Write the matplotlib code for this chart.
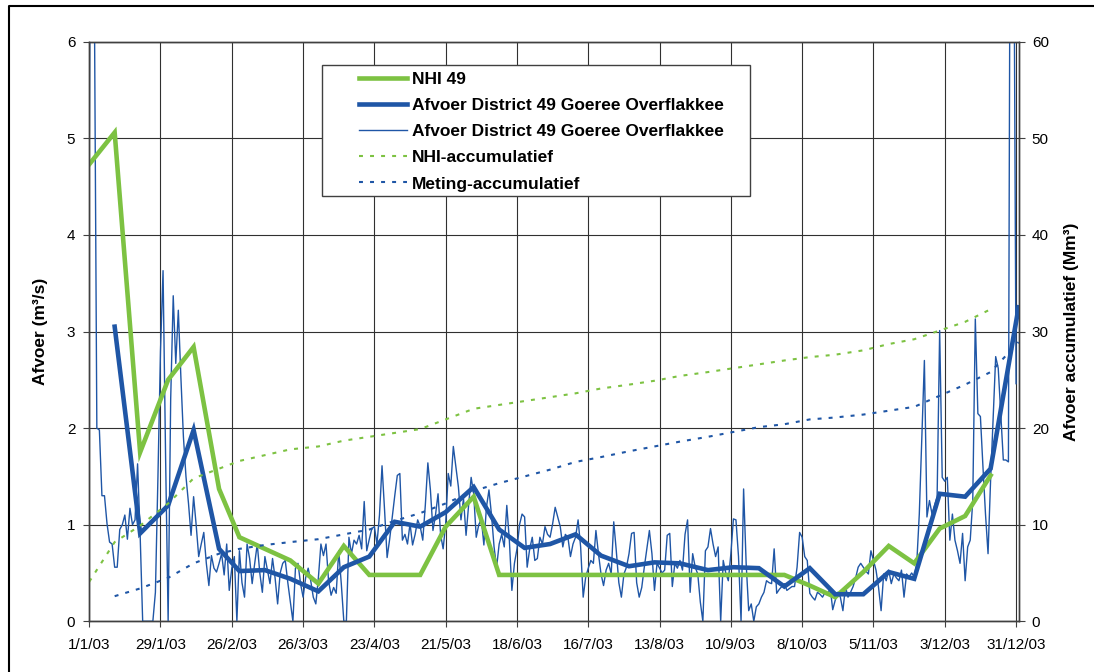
import datetime as dt
import numpy as np
import matplotlib
matplotlib.use("Agg")
import matplotlib.pyplot as plt
from matplotlib.lines import Line2D
from matplotlib.patches import Rectangle

plt.rcParams["font.family"] = ["Liberation Sans", "DejaVu Sans"]

START = dt.date(2003, 1, 1)

# Decade boundaries: 1st, 11th and 21st of each month, closing with 1/1/04
decade_dates = [dt.date(2003, m, d) for m in range(1, 13) for d in (1, 11, 21)] + [dt.date(2004, 1, 1)]
decade_days = [(d - START).days for d in decade_dates]

# NHI 49 model discharge per decade (m3/s), plotted at decade start
nhi_49 = [4.73, 5.06, 1.75, 2.50, 2.84, 1.37, 0.87, 0.75, 0.63, 0.39,
          0.78, 0.48, 0.48, 0.48, 0.98, 1.29, 0.48,
          0.48, 0.48, 0.48, 0.48, 0.48, 0.48, 0.48, 0.48, 0.48, 0.48, 0.48,
          0.37, 0.25, 0.51, 0.78, 0.60, 0.96, 1.09, 1.51]

# Measured district discharge, decade means (m3/s), plotted at decade end
district_decade = [3.05, 0.91, 1.20, 1.98, 0.75, 0.52, 0.53, 0.44, 0.31, 0.56,
                   0.67, 1.03, 0.98, 1.13, 1.39, 0.95, 0.76, 0.80, 0.90, 0.68,
                   0.57, 0.61, 0.60, 0.53, 0.56, 0.55, 0.36, 0.55, 0.28, 0.28,
                   0.51, 0.44, 1.32, 1.29, 1.58, 3.25]

# Cumulative volumes (Mm3)
nhi_cum = [4.09, 8.2, 9.9, 12.2, 14.8, 15.8, 16.6, 17.2, 17.8, 18.1,
           18.7, 19.1, 19.5, 19.9, 20.9, 22.0, 22.4, 22.8, 23.2, 23.6,
           24.1, 24.5, 24.9, 25.4, 25.8, 26.2, 26.6, 27.0, 27.35, 27.6,
           28.05, 28.7, 29.2, 30.1, 31.0, 32.3]
meting_cum = [2.6, 3.4, 4.5, 6.0, 7.0, 7.5, 7.9, 8.2, 8.5, 9.0,
              9.5, 10.4, 11.2, 12.2, 13.5, 14.3, 15.0, 15.7, 16.5, 17.0,
              17.6, 18.1, 18.6, 19.1, 19.6, 20.1, 20.4, 20.9, 21.1, 21.4,
              21.8, 22.2, 23.35, 24.5, 25.8, 28.9]

# Measured daily discharge (m3/s), 1/1/03 .. 31/12/03
daily_flow = [
    4.72, 10.6, 6.6, 2.0, 1.98, 1.30, 1.30, 1.01, 0.82, 0.80,
    0.56, 0.56, 0.95, 1.00, 1.10, 0.85, 1.17, 1.00, 1.05, 1.63,
    0.90, 0.0, 0.0, 0.0, 0.0, 0.0, 0.3, 1.5, 2.8, 3.63, 1.7,
    0.0, 2.3, 3.37, 2.67, 3.22, 2.53, 1.91, 1.5, 1.22, 0.89,
    1.29, 1.0, 0.67, 0.8, 0.92, 0.6, 0.37, 0.68, 0.55, 0.51,
    0.6, 0.70, 0.48, 0.80, 0.32, 0.55, 0.67, 0.0,
    0.73, 0.40, 0.25, 0.80, 0.65, 0.39, 0.60, 0.80, 0.50, 0.30,
    0.67, 0.53, 0.39, 0.65, 0.45, 0.18, 0.50, 0.60, 0.63, 0.40,
    0.20, 0.0, 0.55, 0.60, 0.39, 0.25, 0.45, 0.55, 0.42, 0.25, 0.18,
    0.45, 0.80, 0.68, 0.80, 0.42, 0.27, 0.35, 0.29, 0.73, 0.39,
    0.0, 0.0, 0.87, 0.70, 0.84, 0.80, 0.89, 0.75, 1.24, 0.73,
    0.85, 0.96, 0.98, 0.80, 1.10, 1.61, 1.15, 0.66, 0.85, 1.08,
    1.30, 1.51, 1.53, 0.84, 0.90, 0.80, 1.01, 0.79, 0.90, 1.05,
    0.98, 0.84, 1.20, 1.64, 1.36, 0.94, 1.10, 1.32, 0.90, 0.75,
    1.01, 1.53, 1.40, 1.81, 1.60, 1.39, 1.05, 1.27, 0.89, 1.20, 1.49,
    1.32, 0.87, 1.00, 1.06, 0.79, 1.18, 1.36, 1.10, 0.77, 0.56,
    0.80, 0.90, 0.77, 1.20, 0.84, 0.32, 0.60, 0.75, 1.00, 1.11,
    1.08, 0.56, 0.75, 0.87, 0.63, 0.65, 0.87, 0.80, 0.98, 0.90,
    0.87, 1.01, 1.18, 1.08, 0.98, 0.77, 0.90, 0.87, 0.67, 0.80,
    0.87, 1.05, 0.77, 0.25, 0.46, 0.55, 0.63, 0.60, 0.94, 0.70,
    0.49, 0.37, 0.53, 0.60, 0.49, 1.03, 0.73, 0.40, 0.25, 0.49, 0.56,
    0.70, 0.91, 0.92, 0.40, 0.25, 0.35, 0.56, 0.75, 0.94, 0.70,
    0.32, 0.60, 0.55, 0.50, 0.53, 0.89, 0.91, 0.36, 0.60, 0.55,
    0.63, 0.53, 0.90, 1.05, 0.30, 0.70, 0.56, 0.49, 0.20, 0.0, 0.73,
    0.77, 0.96, 0.80, 0.67, 0.77, 0.0, 0.63, 0.50, 0.42, 0.70,
    1.06, 1.05, 0.67, 0.0, 1.37, 0.60, 0.11, 0.18, 0.0, 0.15,
    0.18, 0.25, 0.30, 0.42, 0.40, 0.39, 0.75, 0.29, 0.33, 0.36,
    0.39, 0.32, 0.34, 0.36, 0.36, 0.56, 0.92, 0.87, 0.67, 0.63,
    0.29, 0.25, 0.22, 0.30, 0.28, 0.25, 0.30, 0.27, 0.35, 0.12,
    0.22, 0.30, 0.25, 0.11, 0.36, 0.25, 0.30, 0.36, 0.45, 0.56, 0.60,
    0.56, 0.52, 0.49, 0.73, 0.63, 0.53, 0.35, 0.11, 0.49, 0.42,
    0.53, 0.39, 0.49, 0.45, 0.42, 0.53, 0.25, 0.49, 0.46, 0.50,
    0.46, 0.60, 1.11, 1.90, 2.70, 1.08, 1.25, 1.11, 1.20, 1.29,
    3.01, 1.49, 1.45, 1.49, 0.84, 1.11, 0.84, 0.73, 0.60, 0.91,
    0.42, 0.77, 0.84, 1.25, 3.13, 2.15, 2.12, 1.60, 1.11, 0.70,
    1.46, 2.10, 2.74, 2.62, 2.15, 1.67, 1.67, 1.65, 10.5, 8.1, 2.46,
]

tick_labels = ["1/1/03", "29/1/03", "26/2/03", "26/3/03", "23/4/03", "21/5/03",
               "18/6/03", "16/7/03", "13/8/03", "10/9/03", "8/10/03", "5/11/03",
               "3/12/03", "31/12/03"]
tick_days = [(dt.datetime.strptime(s, "%d/%m/%y").date() - START).days for s in tick_labels]

labels = ["NHI 49",
          "Afvoer District 49 Goeree Overflakkee",
          "Afvoer District 49 Goeree Overflakkee",
          "NHI-accumulatief",
          "Meting-accumulatief"]

GREEN = "#7DC242"
BLUE = "#1F56A6"
GRID = "#303030"

W, H = 1094, 672
fig = plt.figure(figsize=(W / 100, H / 100), dpi=100)
fig.patch.set_facecolor("white")

x0, x1, y_top, y_bot = 89.2, 1018.6, 41.7, 621.3
ax = fig.add_axes([x0 / W, 1 - y_bot / H, (x1 - x0) / W, (y_bot - y_top) / H])
ax2 = ax.twinx()

days = np.arange(len(daily_flow))
ax.plot(days, daily_flow, color=BLUE, lw=1.0, zorder=3)
ax.plot(decade_days[:len(nhi_49)], nhi_49, color=GREEN, lw=3.3, zorder=4,
        solid_joinstyle="miter")
ax.plot(decade_days[1:], district_decade, color=BLUE, lw=3.3, zorder=5,
        solid_joinstyle="miter")

dots = (0, (1.9, 3.4))
ax2.plot(decade_days[:len(nhi_cum)], nhi_cum, color=GREEN, lw=1.5, ls=dots)
ax2.plot(decade_days[1:], meting_cum, color=BLUE, lw=1.5, ls=dots)

ax.set_xlim(0, 365)
ax.set_ylim(0, 6)
ax2.set_ylim(0, 60)
ax.set_xticks(tick_days)
ax.set_xticklabels(tick_labels)
ax.set_yticks(range(0, 7))
ax2.set_yticks(range(0, 61, 10))

ax.grid(True, color=GRID, lw=0.8)
ax.set_axisbelow(True)
for a in (ax, ax2):
    for s in a.spines.values():
        s.set_color("#404040")
        s.set_linewidth(1.0)
    a.tick_params(direction="out", length=4.5, width=0.8, color="#404040",
                  labelsize=11, labelcolor="black")
ax.tick_params(axis="y", pad=5.5)
ax.tick_params(axis="x", pad=7.5)
ax2.tick_params(axis="y", pad=5)

fig.text(40 / W, 1 - 331.5 / H, "Afvoer (m³/s)", rotation=90, ha="center",
         va="center", fontsize=12.5, fontweight="bold")
fig.text(1071.5 / W, 1 - 331.5 / H, "Afvoer accumulatief (Mm³)", rotation=90,
         ha="center", va="center", fontsize=12.5, fontweight="bold")

# Legend box and entries
box = Rectangle((322 / W, 1 - 196 / H), (750 - 322) / W, (196 - 65) / H,
                transform=fig.transFigure, facecolor="white", edgecolor="#404040",
                lw=1.0, zorder=5)
fig.add_artist(box)
handles = [Line2D([], [], color=GREEN, lw=3.3),
           Line2D([], [], color=BLUE, lw=3.3),
           Line2D([], [], color=BLUE, lw=1.0),
           Line2D([], [], color=GREEN, lw=1.5, ls=dots),
           Line2D([], [], color=BLUE, lw=1.5, ls=dots)]
leg = fig.legend(handles, labels, loc="upper left",
                 bbox_to_anchor=(359 / W, 1 - 72 / H), frameon=False,
                 borderpad=0, borderaxespad=0, handlelength=2.76,
                 handletextpad=0.3, labelspacing=0.63,
                 prop={"weight": "bold", "size": 12.5})
leg.set_zorder(6)

# Outer frame (left and top edges)
fig.add_artist(Line2D([9.3 / W, 9.3 / W, 1.0], [0.0, 1 - 6 / H, 1 - 6 / H],
                      transform=fig.transFigure, color="black", lw=1.5))

fig.savefig("out.png", dpi=100)
